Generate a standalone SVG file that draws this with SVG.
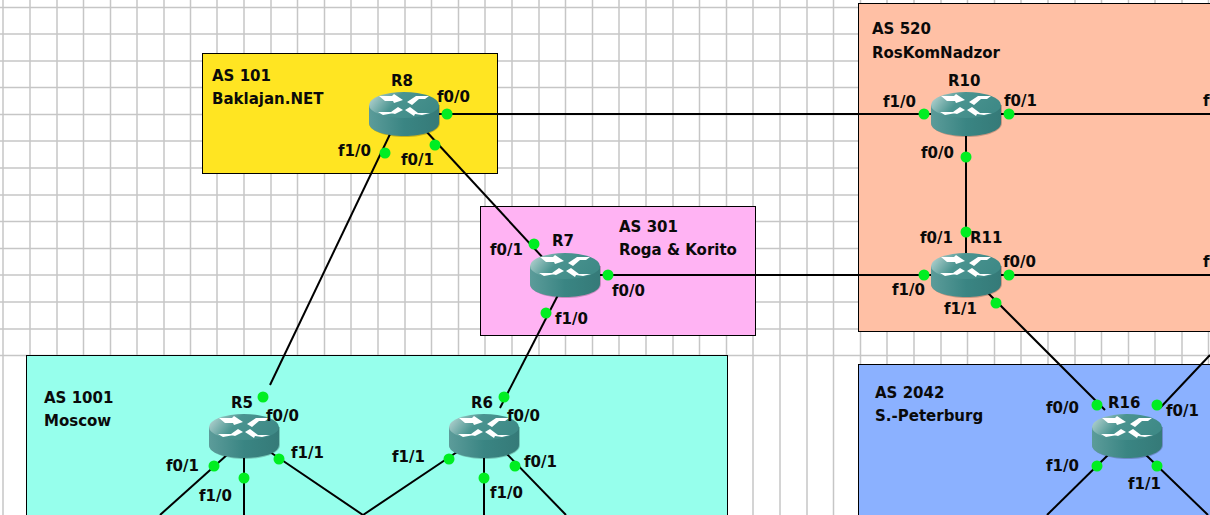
<svg xmlns="http://www.w3.org/2000/svg" xmlns:xlink="http://www.w3.org/1999/xlink" width="1210" height="515" viewBox="0 0 1210 515">
<style>
text{font-family:"DejaVu Sans",sans-serif;font-weight:bold;font-size:15px;fill:#0a0a0a}
.as{stroke:#000;stroke-width:1}
.c{stroke:#000;stroke-width:2;fill:none}
.d{fill:#00ee22}
.g1{stroke:#c6c6c6;stroke-width:1.5}
.g2{stroke:#e2e2e2;stroke-width:1.5}
</style>
<defs>
<linearGradient id="top" x1="0" y1="0" x2="1" y2="0.3"><stop offset="0" stop-color="#c4dcda"/><stop offset="0.45" stop-color="#4a9490"/><stop offset="1" stop-color="#3f8a87"/></linearGradient>
<linearGradient id="side" x1="0" y1="0" x2="1" y2="0"><stop offset="0" stop-color="#5c9c9a"/><stop offset="0.5" stop-color="#3a8583"/><stop offset="1" stop-color="#357a78"/></linearGradient>
<g id="rt">
<path d="M-35-9V9C-35 17-19 23 1 23S36 17 36 9V-9Z" fill="#000" opacity=".22"/>
<path d="M-35-9V9C-35 17-19 22 0 22S35 17 35 9V-9Z" fill="url(#side)"/>
<ellipse cx="0" cy="-9" rx="35" ry="13" fill="url(#top)"/>
<path d="M-25-18H-12L-10-20 -1-14 -10-11-11-13H-19ZM25-18H12L3-12 8-9 15-15H21ZM-26-2H-13L-6-7-1-4-9 0-13-1-10-1-21 1ZM26-1H14L6-7 1-4 10 2 11 0 18 1Z" fill="#fff"/>
</g>
</defs>
<rect width="1210" height="515" fill="#fff"/>
<g id="grid">
<path class="g1" d="M3 0V515M30 0V515M57 0V515M83.500 0V515M110.500 0V515M137 0V515M164 0V515M190.500 0V515M217 0V515M244 0V515M271 0V515M297.500 0V515M324.500 0V515M351 0V515M378 0V515M405 0V515M431.500 0V515M458.500 0V515M485 0V515M512 0V515M539 0V515M565.500 0V515M592.500 0V515M619 0V515M646 0V515M673 0V515M699.500 0V515M726.500 0V515M753 0V515M780 0V515M807 0V515M833.500 0V515M860.500 0V515M887 0V515M914 0V515M941 0V515M967.500 0V515M994.500 0V515M1021 0V515M1048 0V515M1075 0V515M1101.500 0V515M1128.500 0V515M1155 0V515M1182 0V515M1208.500 0V515"/>
<path class="g1" d="M0 7.500H1210M0 34H1210M0 61H1210M0 87.500H1210M0 114.500H1210M0 141H1210M0 168H1210M0 195H1210M0 221.500H1210M0 248.500H1210M0 275H1210M0 302H1210M0 329H1210M0 355.500H1210"/>
</g>
<g id="areas">
<rect id="as101" class="as" x="202.500" y="53.500" width="295" height="120" fill="#ffe522"/>
<text x="212" y="81">AS 101</text><text x="212" y="104">Baklajan.NET</text>
<rect id="as520" class="as" x="858.500" y="3.500" width="360" height="328" fill="#ffc0a5"/>
<text x="872" y="34">AS 520</text><text x="872" y="58">RosKomNadzor</text>
<rect id="as301" class="as" x="480.500" y="206.500" width="275" height="129" fill="#ffb3f3"/>
<text x="619" y="232">AS 301</text><text x="619" y="255">Roga &amp; Korito</text>
<rect id="as1001" class="as" x="26.500" y="355.500" width="701" height="170" fill="#96ffec"/>
<text x="44" y="403">AS 1001</text><text x="44" y="426">Moscow</text>
<rect id="as2042" class="as" x="858.500" y="364.500" width="360" height="160" fill="#8bb1ff"/>
<text x="875" y="398">AS 2042</text><text x="875" y="421">S.-Peterburg</text>
</g>
<g id="connectors">
<path class="c" d="M437 114H1210"/>
<path class="c" d="M966 130V260"/>
<path class="c" d="M590 275H1210"/>
<path class="c" d="M392 130L270 385"/>
<path class="c" d="M425 130L545 260"/>
<path class="c" d="M558 295L500 408"/>
<path class="c" d="M985 290L1105 410"/>
<path class="c" d="M1160 408L1210 355"/>
<path class="c" d="M228 454L160 515"/>
<path class="c" d="M244 454V515"/>
<path class="c" d="M270 452L363 515L460 450"/>
<path class="c" d="M484 454V515"/>
<path class="c" d="M505 452L566 515"/>
<path class="c" d="M1108 455L1047 515"/>
<path class="c" d="M1146 455L1208 515"/>
</g>
<g id="R8"><use xlink:href="#rt" href="#rt" x="404" y="114"/><text x="391" y="86">R8</text>
<circle class="d" cx="447" cy="114" r="5.500"/><text x="437" y="102">f0/0</text>
<circle class="d" cx="385" cy="153" r="5.500"/><text x="338" y="156">f1/0</text>
<circle class="d" cx="435" cy="145" r="5.500"/><text x="401" y="165">f0/1</text></g>
<g id="R10"><use xlink:href="#rt" href="#rt" x="966" y="114"/><text x="948" y="86">R10</text>
<circle class="d" cx="924" cy="114" r="5.500"/><text x="883" y="107">f1/0</text>
<circle class="d" cx="1009" cy="114" r="5.500"/><text x="1004" y="106">f0/1</text>
<circle class="d" cx="966" cy="157" r="5.500"/><text x="921" y="158">f0/0</text></g>
<g id="R11"><use xlink:href="#rt" href="#rt" x="966" y="275"/><text x="970" y="243">R11</text>
<circle class="d" cx="966" cy="232" r="5.500"/><text x="920" y="243">f0/1</text>
<circle class="d" cx="924" cy="275" r="5.500"/><text x="892" y="295">f1/0</text>
<circle class="d" cx="1009" cy="275" r="5.500"/><text x="1003" y="267">f0/0</text>
<circle class="d" cx="996" cy="303" r="5.500"/><text x="944" y="314">f1/1</text></g>
<g id="R7"><use xlink:href="#rt" href="#rt" x="565" y="275"/><text x="552" y="246">R7</text>
<circle class="d" cx="534" cy="244" r="5.500"/><text x="490" y="255">f0/1</text>
<circle class="d" cx="608" cy="275" r="5.500"/><text x="612" y="296">f0/0</text>
<circle class="d" cx="546" cy="313" r="5.500"/><text x="555" y="324">f1/0</text></g>
<g id="R5"><use xlink:href="#rt" href="#rt" x="244" y="436"/><text x="231" y="408">R5</text>
<circle class="d" cx="263" cy="397" r="5.500"/><text x="266" y="421">f0/0</text>
<circle class="d" cx="214" cy="466" r="5.500"/><text x="166" y="471">f0/1</text>
<circle class="d" cx="244" cy="478" r="5.500"/><text x="199" y="501">f1/0</text>
<circle class="d" cx="279" cy="459" r="5.500"/><text x="291" y="458">f1/1</text></g>
<g id="R6"><use xlink:href="#rt" href="#rt" x="484" y="436"/><text x="471" y="408">R6</text>
<circle class="d" cx="504" cy="397" r="5.500"/><text x="507" y="421">f0/0</text>
<circle class="d" cx="449" cy="459" r="5.500"/><text x="392" y="462">f1/1</text>
<circle class="d" cx="484" cy="478" r="5.500"/><text x="490" y="498">f1/0</text>
<circle class="d" cx="515" cy="466" r="5.500"/><text x="524" y="467">f0/1</text></g>
<g id="R16"><use xlink:href="#rt" href="#rt" x="1127" y="436"/><text x="1108" y="408">R16</text>
<circle class="d" cx="1097" cy="405" r="5.500"/><text x="1046" y="413">f0/0</text>
<circle class="d" cx="1157" cy="405" r="5.500"/><text x="1166" y="416">f0/1</text>
<circle class="d" cx="1097" cy="466" r="5.500"/><text x="1046" y="471">f1/0</text>
<circle class="d" cx="1157" cy="466" r="5.500"/><text x="1128" y="489">f1/1</text></g>
<text x="1203" y="106">f</text><text x="1203" y="267">f</text>
</svg>
